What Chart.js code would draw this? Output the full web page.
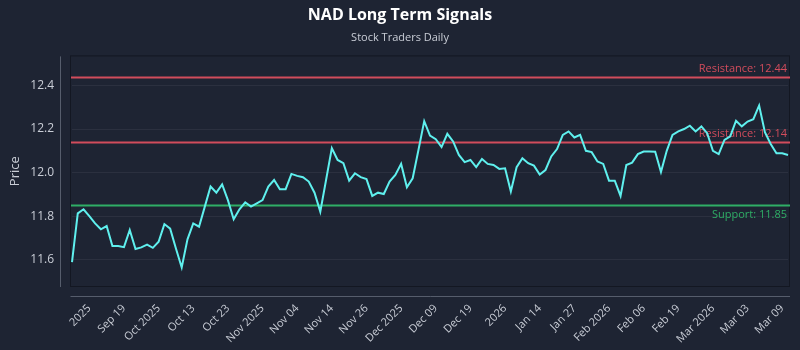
<!DOCTYPE html>
<html>
<head>
<meta charset="utf-8">
<title>NAD Long Term Signals</title>
<script src="https://cdn.jsdelivr.net/npm/chart.js@4/dist/chart.umd.min.js"></script>
<style>
  html, body { margin:0; padding:0; background:#1e2433; }
  canvas { display:block; }
</style>
</head>
<body>
<canvas id="chart" width="800" height="350"></canvas>
<script>
// closing prices, one per session
const prices = [
  11.59, 11.813, 11.832, 11.80, 11.767, 11.74, 11.755, 11.663, 11.663, 11.658,
  11.737, 11.65, 11.657, 11.67, 11.655, 11.683, 11.764, 11.743, 11.652, 11.565,
  11.694, 11.767, 11.752, 11.844, 11.936, 11.908, 11.946, 11.874, 11.786, 11.832,
  11.864, 11.844, 11.859, 11.874, 11.936, 11.966, 11.924, 11.924, 11.994, 11.985,
  11.979, 11.959, 11.908, 11.821, 11.966, 12.112, 12.058, 12.043, 11.963, 11.997,
  11.979, 11.970, 11.893, 11.908, 11.902, 11.959, 11.989, 12.04, 11.933, 11.974,
  12.104, 12.236, 12.17, 12.153, 12.117, 12.178, 12.143, 12.081, 12.048, 12.058,
  12.025, 12.063, 12.040, 12.035, 12.017, 12.02, 11.913, 12.025, 12.066, 12.043,
  12.032, 11.991, 12.012, 12.074, 12.108, 12.173, 12.189, 12.161, 12.173, 12.10,
  12.094, 12.051, 12.040, 11.963, 11.963, 11.893, 12.035, 12.046, 12.085, 12.097,
  12.097, 12.096, 12.003, 12.10, 12.173, 12.189, 12.20, 12.215, 12.189, 12.212,
  12.181, 12.10, 12.085, 12.15, 12.166, 12.238, 12.212, 12.234, 12.245, 12.308,
  12.185, 12.131, 12.089, 12.089, 12.081
];

// date labels shown under the x axis (every sixth session, from the fourth)
const tickLabels = [
  '2025', 'Sep 19', 'Oct 2025', 'Oct 13', 'Oct 23', 'Nov 2025', 'Nov 04',
  'Nov 14', 'Nov 26', 'Dec 2025', 'Dec 09', 'Dec 19', '2026', 'Jan 14',
  'Jan 27', 'Feb 2026', 'Feb 06', 'Feb 19', 'Mar 2026', 'Mar 03', 'Mar 09'
];
const tickStart = 3, tickEvery = 6;

const yTicks = [11.6, 11.8, 12.0, 12.2, 12.4];

// signal levels
const levelNames  = ['Resistance', 'Resistance', 'Support'];
const levelValues = [12.44, 12.14, 11.85];

const COL = {
  bg:'#1e2433', line:'#5ff0ee', text:'#c9cdd6', grid:'rgba(255,255,255,0.06)',
  spine:'#565d6c', box:'#131722', res:'#d24c5c', sup:'#2fae66'
};
const FONT = "'Open Sans', 'Noto Sans', sans-serif";

const xLabels = prices.map((_, i) => {
  const k = (i - tickStart) / tickEvery;
  return (Number.isInteger(k) && tickLabels[k]) ? tickLabels[k] : '';
});

// plot frame: dark box round the area, detached left/bottom spines
const framePlugin = {
  id: 'frame',
  beforeDatasetsDraw(chart) {
    const {ctx, chartArea:a} = chart;
    ctx.save();
    ctx.strokeStyle = COL.box; ctx.lineWidth = 1;
    ctx.strokeRect(a.left - 1.5, a.top - 0.5, a.right - a.left + 3, a.bottom - a.top + 1);
    ctx.strokeStyle = COL.spine;
    ctx.beginPath();
    ctx.moveTo(a.left - 11.5, a.top); ctx.lineTo(a.left - 11.5, a.bottom + 1);
    ctx.moveTo(a.left - 1.5, a.bottom + 10.5); ctx.lineTo(a.right + 2, a.bottom + 10.5);
    ctx.stroke();
    ctx.restore();
  }
};

// horizontal support / resistance lines with their captions
const levelsPlugin = {
  id: 'levels',
  beforeDatasetsDraw(chart) {
    const {ctx, chartArea:a, scales:{y}} = chart;
    ctx.save();
    ctx.font = `11px ${FONT}`;
    ctx.textAlign = 'right';
    levelValues.forEach((v, i) => {
      const py = Math.round(y.getPixelForValue(v)) + 0.5;
      const isSup = levelNames[i] === 'Support';
      const c = isSup ? COL.sup : COL.res;
      ctx.strokeStyle = c; ctx.lineWidth = 2;
      ctx.beginPath(); ctx.moveTo(a.left - 1, py); ctx.lineTo(a.right + 2, py); ctx.stroke();
      ctx.fillStyle = c;
      ctx.textBaseline = isSup ? 'top' : 'bottom';
      ctx.fillText(`${levelNames[i]}: ${v.toFixed(2)}`, a.right - 1, isSup ? py + 4 : py - 3);
    });
    ctx.restore();
  }
};

new Chart(document.getElementById('chart'), {
  type: 'line',
  data: {
    labels: xLabels,
    datasets: [{
      label: 'NAD',
      data: prices,
      borderColor: COL.line,
      borderWidth: 2,
      pointRadius: 0,
      tension: 0,
      fill: false
    }]
  },
  options: {
    responsive: false,
    animation: false,
    layout: { padding: 0 },
    plugins: {
      legend: { display: false },
      tooltip: { enabled: false },
      title: {
        display: true, text: 'NAD Long Term Signals', color: '#ffffff',
        font: { family: FONT, size: 16, weight: 'bold' },
        padding: { top: 6, bottom: 4 }
      },
      subtitle: {
        display: true, text: 'Stock Traders Daily', color: COL.text,
        font: { family: FONT, size: 11 },
        padding: { top: 2, bottom: 12 }
      }
    },
    scales: {
      x: {
        type: 'category',
        grid: { display: false, drawTicks: false },
        border: { display: false },
        ticks: {
          autoSkip: false, minRotation: 45, maxRotation: 45, padding: 16,
          color: COL.text, font: { family: FONT, size: 11 },
          callback: (v, i) => xLabels[i] || null
        },
        // keep the plot 12px off the right edge, titles stay centred on the canvas
        afterFit: s => { s.height = 64; s.paddingLeft = 0; s.paddingRight = 12; }
      },
      y: {
        min: 11.48, max: 12.533,
        grid: { color: COL.grid, drawTicks: false },
        border: { display: false },
        title: { display: true, text: 'Price', color: COL.text, font: { family: FONT, size: 13 }, padding: { top: 7 } },
        ticks: {
          padding: 18, color: COL.text, font: { family: FONT, size: 12 },
          callback: v => Number(v).toFixed(1)
        },
        afterBuildTicks: s => { s.ticks = yTicks.map(value => ({ value })); },
        afterFit: s => { s.width = 72; }
      }
    }
  },
  plugins: [framePlugin, levelsPlugin]
});
</script>
</body>
</html>
